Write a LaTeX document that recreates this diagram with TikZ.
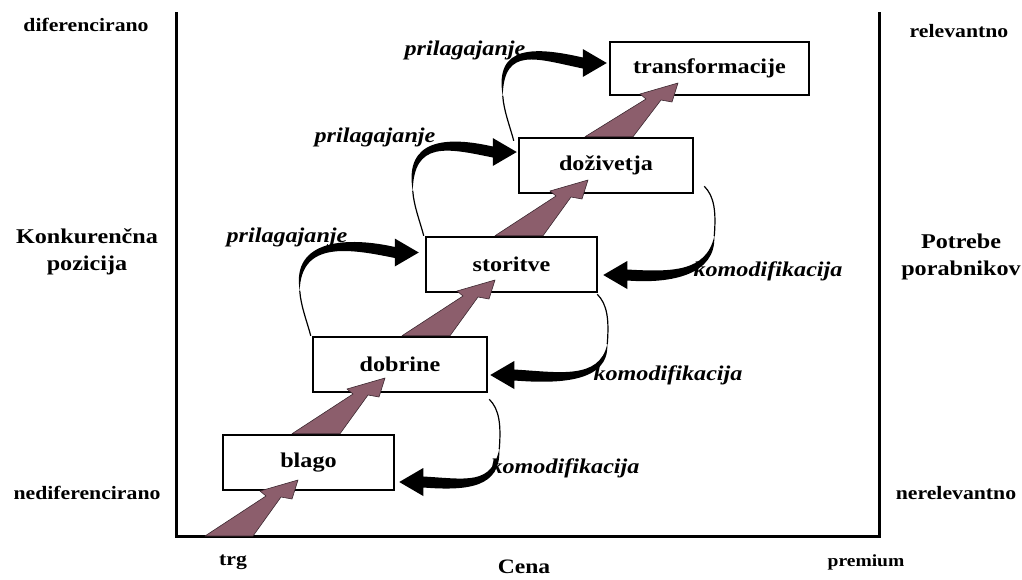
\documentclass[tikz,border=0pt]{standalone}
\usepackage{fontspec}
\setmainfont{Liberation Serif}[FakeStretch=1.15]
\usetikzlibrary{calc}
\definecolor{wedgecol}{RGB}{140,94,108}
\definecolor{wedgeedge}{RGB}{60,40,48}

% broad mauve arrow rising from the top of a lower level into the next box
\newcommand\wedgeup[2]{%
  \coordinate (wa) at ($(#2)+(-93,0)$);
  \coordinate (wb) at ($(#2)+(-45,0)$);
  \filldraw[mauve] (wa |- #1) -- ($(#2)+(-32,16)$) -- ($(#2)+(-38,11)$) -- (#2)
    -- ($(#2)+(-6,19)$) -- ($(#2)+(-17,17)$) -- (wb |- #1) -- cycle;}

% "adapting" loop: thin rise from the lower box, thickening arc, head to the right
\newcommand\adaptloop[2]{%
  \coordinate (S) at (#1);
  \coordinate (E) at (#2);
  \coordinate (P) at ($(S)+(-11,-45)$);
  \coordinate (N) at ($(E)+(-24,0)$);
  \draw[thinline] (S) .. controls ($(S)+(-4,-15)$) and ($(P)+(1,15)$) .. (P);
  \fill (P) .. controls ($(P)+(-9,-52)$) and ($(N)+(-46,-16)$) .. ($(N)+(0,-5.5)$)
    -- ($(N)+(0,-14)$) -- (E) -- ($(N)+(0,14)$) -- ($(N)+(0,5.5)$)
    .. controls ($(N)+(-46,-4)$) and ($(P)+(1,-50)$) .. (P) -- cycle;}

% "commodification" loop: thin drop from the upper box, thickening arc, head to the left
\newcommand\commodloop[2]{%
  \coordinate (S) at (#1);
  \coordinate (E) at (#2);
  \coordinate (P) at ($(S)+(10,50)$);
  \coordinate (N) at ($(E)+(24,0)$);
  \draw[thinline] (S) .. controls ($(S)+(10,10)$) and ($(P)+(2,-25)$) .. (P);
  \fill (P) .. controls ($(P)+(2,38)$) and ($(N)+(45,9)$) .. ($(N)+(0,5.5)$)
    -- ($(N)+(0,14)$) -- (E) -- ($(N)+(0,-14)$) -- ($(N)+(0,-5.5)$)
    .. controls ($(N)+(44,-3)$) and ($(P)+(-8,36)$) .. (P) -- cycle;}

\begin{document}
\begin{tikzpicture}[x=1pt,y=-1pt,
  stage/.style={draw, line width=2.5pt, fill=white, inner sep=0pt,
    minimum height=55pt, font=\fontsize{21}{24}\selectfont\bfseries},
  cornerlbl/.style={font=\fontsize{18.9}{22}\selectfont\bfseries},
  sidelbl/.style={font=\fontsize{21}{27}\selectfont\bfseries, align=center},
  flowlbl/.style={font=\fontsize{21}{24}\selectfont\bfseries\itshape},
  thinline/.style={line width=1.2pt},
  mauve/.style={fill=wedgecol, draw=wedgeedge, line width=0.6pt, line join=round}]
\useasboundingbox (0,0) rectangle (1022,579);

% frame of the chart
\coordinate (axTL) at (176,12);
\coordinate (axBL) at (176,536);
\coordinate (axBR) at (879,536);
\coordinate (axTR) at (879,12);
\draw[line width=3pt, line join=miter] (axTL) -- (axBL) -- (axBR) -- (axTR);

% levels
\node[stage, minimum width=171pt] (blago)  at (308.5,462.5) {blago};
\node[stage, minimum width=174pt] (dobrine) at (400,364.5) {dobrine};
\node[stage, minimum width=171pt] (storitve) at (511.5,264.5) {storitve};
\node[stage, minimum width=174pt] (dozivetja) at (606,165.5) {doživetja};
\node[stage, minimum width=199pt, minimum height=53pt] (transf) at (709.5,68.5) {transformacije};

% rising progression arrows
\coordinate (t1) at ($(blago.center)+(-10.5,17.5)$);
\coordinate (t2) at ($(dobrine.center)+(-15,13.5)$);
\coordinate (t3) at ($(storitve.center)+(-16.5,15.5)$);
\coordinate (t4) at ($(dozivetja.center)+(-18,14.5)$);
\coordinate (t5) at ($(transf.center)+(-31.5,14.5)$);
\wedgeup{axBL}{t1}
\wedgeup{blago.north}{t2}
\wedgeup{dobrine.north}{t3}
\wedgeup{storitve.north}{t4}
\wedgeup{dozivetja.north}{t5}

% adapting upwards
\adaptloop{$(dobrine.north west)+(-1,0)$}{$(storitve.west)+(-6,-12)$}
\adaptloop{$(storitve.north west)+(-1,0)$}{$(dozivetja.west)+(-1,-13.5)$}
\adaptloop{$(dozivetja.north west)+(-4,4)$}{$(transf.west)+(-2,-5.5)$}

% commodification downwards
\commodloop{$(dozivetja.south east)+(10,-8)$}{$(storitve.east)+(5,10.5)$}
\commodloop{$(storitve.south east)+(-1,1)$}{$(dobrine.east)+(2,10.5)$}
\commodloop{$(dobrine.south east)+(1,6)$}{$(blago.east)+(4,19.5)$}

% loop labels
\node[flowlbl] (pl1) at (287,237) {prilagajanje};
\node[flowlbl] (pl2) at (375,137) {prilagajanje};
\node[flowlbl] (pl3) at (465,50) {prilagajanje};
\node[flowlbl] (kl1) at (768,271) {komodifikacija};
\node[flowlbl] (kl2) at (668,375) {komodifikacija};
\node[flowlbl] (kl3) at (565,468) {komodifikacija};

% axis labels
\node[cornerlbl] (dif)  at (86,25)  {diferencirano};
\node[cornerlbl] (ndif) at (87,493) {nediferencirano};
\node[cornerlbl] (rel)  at (959,31) {relevantno};
\node[cornerlbl] (nrel) at (956,493) {nerelevantno};
\node[sidelbl] (konk) at (87,252) {Konkurenčna\\pozicija};
\node[sidelbl] (potr) at (961,257) {Potrebe\\porabnikov};
\node[cornerlbl] (trg) at (233,562) {trg};
\node[cornerlbl, font=\fontsize{17}{20}\selectfont\bfseries] (prem) at (866,562) {premium};
\node[cornerlbl, inner sep=1pt, font=\fontsize{20.5}{24}\selectfont\bfseries] (cena) at (524,567) {Cena};
\end{tikzpicture}
\end{document}
